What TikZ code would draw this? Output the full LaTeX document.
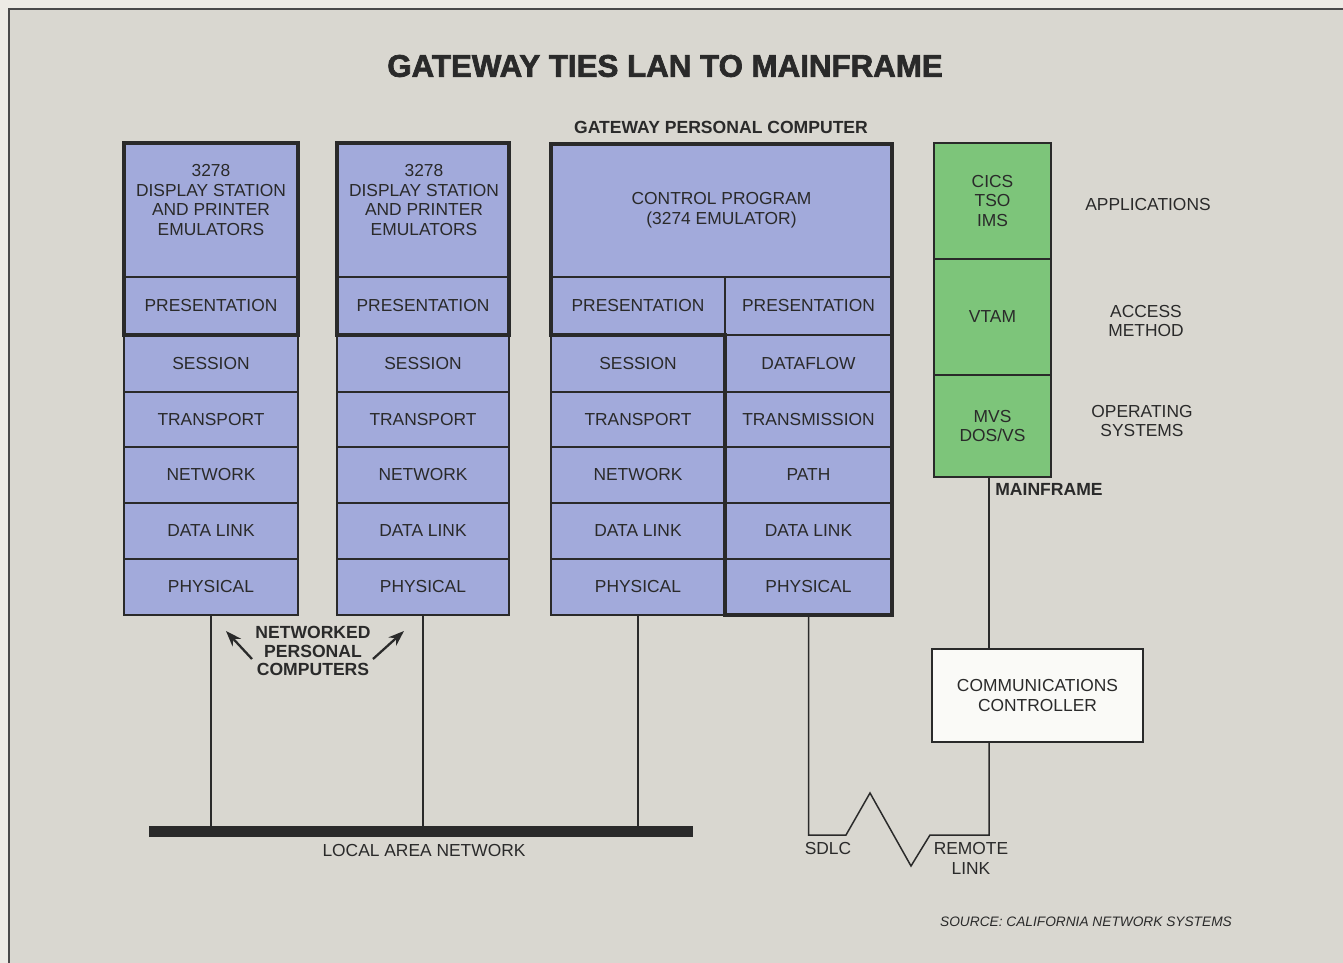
\documentclass[tikz,border=0pt]{standalone}
\usepackage{fontspec}
\setmainfont{Liberation Sans}
\newfontfamily\titlefont[FakeBold=2.2]{Liberation Sans Bold}
\usetikzlibrary{arrows.meta,calc}
\definecolor{paper}{HTML}{D9D7D0}
\definecolor{marginc}{HTML}{EDEBE5}
\definecolor{layer}{HTML}{A2AADB}
\definecolor{mfgreen}{HTML}{7DC57A}
\definecolor{ink}{HTML}{2A2A2A}
\definecolor{boxwhite}{HTML}{FAFAF7}
% \layercell[options]{name}{x1}{y1}{x2}{y2}{text}
\newcommand\layercell[7][]{%
  \node[cellsty, minimum width={(#5-#3)*0.02cm}, minimum height={(#6-#4)*0.02cm}, #1]
    (#2) at ({(#3+#5)/2},{(#4+#6)/2}) {#7};}
\begin{document}
\begin{tikzpicture}[x=0.02cm,y=-0.02cm,
  cellsty/.style={draw=ink, line width=0.85pt, fill=layer, text=ink,
    font=\fontsize{9.9}{11.3}\selectfont, align=center, inner sep=0pt, outer sep=0pt},
  greencell/.style={fill=mfgreen},
  thickb/.style={draw=ink, line width=2.8pt, line join=miter},
  link/.style={draw=ink, line width=0.85pt},
  txt/.style={text=ink, font=\fontsize{9.9}{11.3}\selectfont, align=center, inner sep=0pt},
  boldtxt/.style={text=ink, font=\fontsize{10}{10.2}\selectfont\bfseries, align=center, inner sep=0pt},
  ptr/.style={draw=ink, line width=1.3pt, -{Stealth[length=9pt,width=6.5pt]}}]
\useasboundingbox (0,0) rectangle (1343,963);
\begin{scope}
  \clip (0,0) rectangle (1343,963);
  \fill[marginc] (0,0) rectangle (1343,963);
  \filldraw[fill=paper, draw=ink!85, line width=1.2pt] (9,9) rectangle (1380,990);
\end{scope}

% title
\node[text=ink, font=\titlefont\fontsize{17.8}{20}\selectfont, inner sep=0pt] (title) at (665,66) {GATEWAY TIES LAN TO MAINFRAME};

% ---- stack 1
\layercell{s1emu}{124}{143}{298}{277}{}
\layercell{s1pres}{124}{277}{298}{335}{PRESENTATION}
\layercell{s1sess}{124}{335}{298}{392}{SESSION}
\layercell{s1trans}{124}{392}{298}{447}{TRANSPORT}
\layercell{s1net}{124}{447}{298}{503}{NETWORK}
\layercell{s1dl}{124}{503}{298}{559}{DATA LINK}
\layercell{s1phys}{124}{559}{298}{615}{PHYSICAL}
\node[txt] (s1emutext) at (211,200) {3278\\DISPLAY STATION\\AND PRINTER\\EMULATORS};
\draw[thickb] (s1emu.north west) rectangle (s1pres.south east);

% ---- stack 2
\layercell{s2emu}{337}{143}{509}{277}{}
\layercell{s2pres}{337}{277}{509}{335}{PRESENTATION}
\layercell{s2sess}{337}{335}{509}{392}{SESSION}
\layercell{s2trans}{337}{392}{509}{447}{TRANSPORT}
\layercell{s2net}{337}{447}{509}{503}{NETWORK}
\layercell{s2dl}{337}{503}{509}{559}{DATA LINK}
\layercell{s2phys}{337}{559}{509}{615}{PHYSICAL}
\node[txt] (s2emutext) at (424,200) {3278\\DISPLAY STATION\\AND PRINTER\\EMULATORS};
\draw[thickb] (s2emu.north west) rectangle (s2pres.south east);

% ---- gateway
\node[boldtxt] (gwlabel) at (721,127) {GATEWAY PERSONAL COMPUTER};
\layercell{gctrl}{551}{144}{892}{277}{CONTROL PROGRAM\\(3274 EMULATOR)}
\layercell{gpresL}{551}{277}{725}{335}{PRESENTATION}
\layercell{gpresR}{725}{277}{892}{335}{PRESENTATION}
\layercell{gLsess}{551}{335}{725}{392}{SESSION}
\layercell{gLtrans}{551}{392}{725}{447}{TRANSPORT}
\layercell{gLnet}{551}{447}{725}{503}{NETWORK}
\layercell{gLdl}{551}{503}{725}{559}{DATA LINK}
\layercell{gLphys}{551}{559}{725}{615}{PHYSICAL}
\layercell{gRflow}{725}{335}{892}{392}{DATAFLOW}
\layercell{gRtrans}{725}{392}{892}{447}{TRANSMISSION}
\layercell{gRpath}{725}{447}{892}{503}{PATH}
\layercell{gRdl}{725}{503}{892}{559}{DATA LINK}
\layercell{gRphys}{725}{559}{892}{615}{PHYSICAL}
\draw[thickb] (gctrl.north west) -- (gctrl.north east) -- (gRphys.south east)
  -- (gRphys.south west) -- (gRflow.north west) -- (gpresL.south west) -- cycle;

% ---- mainframe
\layercell[greencell]{mapps}{934}{143}{1051}{259}{CICS\\TSO\\IMS}
\layercell[greencell]{mvtam}{934}{259}{1051}{375}{VTAM}
\layercell[greencell]{mos}{934}{375}{1051}{477}{MVS\\DOS/VS}
\node[txt] (lapps) at (1148,205) {APPLICATIONS};
\node[txt] (laccess) at (1146,321) {ACCESS\\METHOD};
\node[txt] (los) at (1142,421) {OPERATING\\SYSTEMS};
\node[boldtxt, anchor=west] (mflabel) at (995,489) {MAINFRAME};

% ---- communications controller
\layercell[fill=boxwhite]{comms}{932}{649}{1143}{742}{COMMUNICATIONS\\CONTROLLER}
\coordinate (mfx) at (989,0);
\draw[link] (mos.south -| mfx) -- (comms.north -| mfx);

% ---- LAN
\node[fill=ink, inner sep=0pt, minimum width={544*0.02cm}, minimum height={11*0.02cm}] (lan) at (421,831.5) {};
\node[txt] (lantext) at (424,851) {LOCAL AREA NETWORK};
\draw[link] (s1phys.south) -- (s1phys.south |- lan.north);
\draw[link] (s2phys.south) -- (s2phys.south |- lan.north);
\draw[link] (gLphys.south) -- (gLphys.south |- lan.north);

% ---- SDLC remote link
\coordinate (z1) at (846,835);
\coordinate (z2) at (870,793);
\coordinate (z3) at (911,866);
\coordinate (z4) at (930,835);
\draw[link, line join=miter] (gRphys.south) -- (gRphys.south |- z1) -- (z1) -- (z2) -- (z3) -- (z4)
  -- (z4 -| mfx) -- (comms.south -| mfx);
\node[txt] (sdlc) at (828,849) {SDLC};
\node[txt] (remote) at (971,858) {REMOTE\\LINK};

% ---- networked PCs
\node[boldtxt, font=\fontsize{10}{10.3}\selectfont\bfseries] (npc) at (313,651) {NETWORKED\\PERSONAL\\COMPUTERS};
\coordinate (a1s) at (252,659);
\coordinate (a1e) at (226,631);
\coordinate (a2s) at (373,659);
\coordinate (a2e) at (404,631);
\draw[ptr] (a1s) -- (a1e);
\draw[ptr] (a2s) -- (a2e);

% ---- source
\node[text=ink, font=\fontsize{7.8}{9}\selectfont\itshape, inner sep=0pt] (source) at (1086,922) {SOURCE: CALIFORNIA NETWORK SYSTEMS};
\end{tikzpicture}
\end{document}
